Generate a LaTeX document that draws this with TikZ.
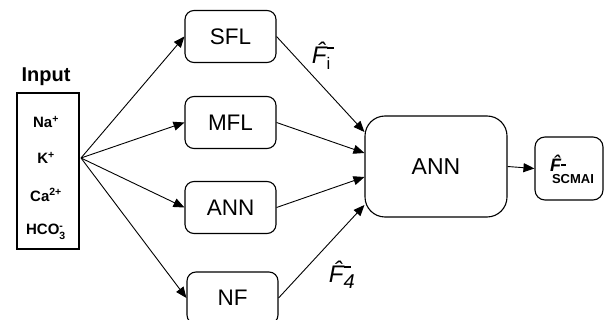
\documentclass[tikz,border=0pt]{standalone}
\usepackage{amsmath}
\usepackage{fontspec}
\setmainfont{Liberation Sans}
\usetikzlibrary{arrows.meta,calc}

\tikzset{
  modelbox/.style={draw, rounded corners=9pt, line width=1.1pt, minimum width=91pt, minimum height=52pt, inner sep=0pt, font=\fontsize{22.5}{22.5}\selectfont},
  ion/.style={font=\bfseries\fontsize{15}{15}\selectfont},
  feed/.style={-{Triangle[length=11pt,width=9pt]}, line width=0.9pt},
  estlabel/.style={font=\fontsize{24}{24}\selectfont, inner sep=0pt},
}
\newcommand{\estdash}[1]{\rule{#1}{1.6pt}}

\begin{document}
\begin{tikzpicture}[x=1pt,y=-1pt]
\useasboundingbox (0,0) rectangle (605,320);

% input block
\node[font=\bfseries\fontsize{20}{20}\selectfont] (inputlabel) at (46,77) {Input};
\node[draw, line width=2pt, minimum width=62pt, minimum height=156pt, inner sep=0pt] (input) at (48,171) {};
\node[ion] (na) at (46,122) {Na\textsuperscript{+}};
\node[ion] (k) at (46,158) {K\textsuperscript{+}};
\node[ion] (ca) at (46,195) {Ca\textsuperscript{2+}};
\node[ion] (hco) at (46,232) {HCO$^{\text{-}}_{\text{3}}$};
\coordinate (fan) at (81,158);

% individual models
\node[modelbox] (sfl) at (230.5,36.5) {SFL};
\node[modelbox] (mfl) at (230.5,122.5) {MFL};
\node[modelbox] (ann) at (230.5,207.5) {ANN};
\node[modelbox] (nf) at (232.5,298) {NF};

% committee machine
\node[draw, rounded corners=20pt, line width=1.1pt, minimum width=142pt, minimum height=101pt, inner sep=0pt, font=\fontsize{23}{23}\selectfont] (annbig) at (436,166.5) {ANN};
\node[draw, rounded corners=10pt, line width=1.1pt, minimum width=68pt, minimum height=63pt, inner sep=0pt] (out) at (569,168.5) {};
\node[inner sep=0pt, anchor=base west, font=\bfseries\itshape\fontsize{18}{18}\selectfont] (outf) at (550,172) {\^{F}$^{\estdash{5pt}}$};
\node[inner sep=0pt, anchor=base, font=\bfseries\fontsize{13}{13}\selectfont] (outsub) at (573,183.5) {SCMAI};

\draw[feed] (fan) -- (sfl.west);
\draw[feed] (fan) -- (mfl.west);
\draw[feed] (fan) -- (ann.west);
\draw[feed] (fan) -- (nf.west);

\draw[feed] (sfl.east) -- ($(annbig.west)+(0,-34.5)$);
\draw[feed] (mfl.east) -- ($(annbig.west)+(0,-13.5)$);
\draw[feed] (ann.east) -- ($(annbig.west)+(0,10.5)$);
\draw[feed] (nf.east) -- ($(annbig.west)+(0,38.5)$);
\draw[feed] (annbig.east) -- (out.west);

\node[estlabel] (fi) at (323,56) {$\mbox{\itshape\^{F}}^{\estdash{7pt}}_{\text{i}}$};
\node[estlabel] (ffour) at (342,275) {$\mbox{\itshape\^{F}}^{\estdash{7pt}}_{\mbox{\itshape\fontsize{20}{20}\selectfont 4}}$};
\end{tikzpicture}
\end{document}
